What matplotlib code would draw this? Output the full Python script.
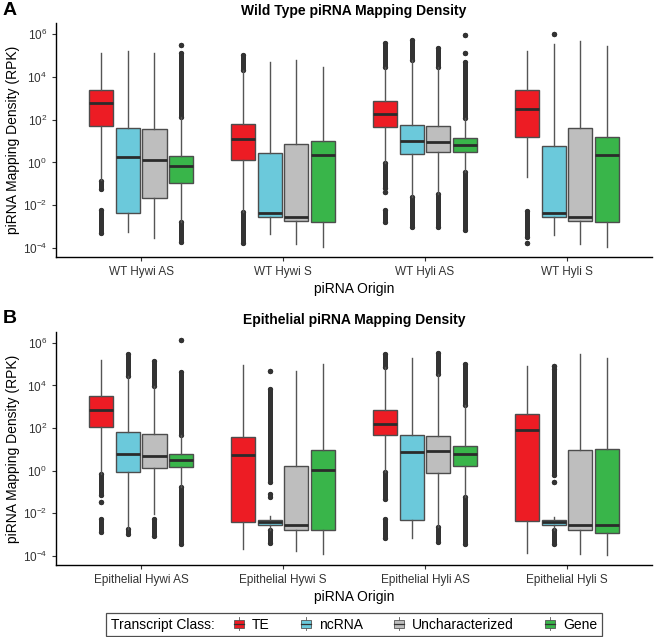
import matplotlib
matplotlib.use("Agg")
import matplotlib.pyplot as plt
from matplotlib.legend_handler import HandlerBase
from matplotlib.patches import Rectangle
from matplotlib.lines import Line2D
from matplotlib.offsetbox import HPacker

plt.rcParams['font.family'] = ['Liberation Sans', 'DejaVu Sans']
plt.rcParams['mathtext.fontset'] = 'custom'
plt.rcParams['mathtext.rm'] = 'Liberation Sans'

classes = ['TE', 'ncRNA', 'Uncharacterized', 'Gene']
colors = ['#ED1C24', '#6BC9DB', '#BEBEBE', '#39B54A']

groups_a = ['WT Hywi AS', 'WT Hywi S', 'WT Hyli AS', 'WT Hyli S']
groups_b = ['Epithelial Hywi AS', 'Epithelial Hywi S', 'Epithelial Hyli AS', 'Epithelial Hyli S']

# all values are log10(RPK); rows = groups, columns = classes
a_q1 = [[1.70, -2.38, -1.68, -0.96], [0.11, -2.54, -2.74, -2.77],
        [1.67, 0.38, 0.47, 0.49], [1.19, -2.54, -2.72, -2.77]]
a_med = [[2.76, 0.25, 0.10, -0.15], [1.11, -2.38, -2.54, 0.35],
         [2.26, 1.00, 0.94, 0.83], [2.50, -2.38, -2.54, 0.35]]
a_q3 = [[3.41, 1.59, 1.58, 0.30], [1.79, 0.44, 0.88, 1.00],
        [2.88, 1.73, 1.72, 1.16], [3.37, 0.78, 1.59, 1.17]]
a_lo = [[-0.82, -3.24, -3.52, -2.77], [-2.30, -3.35, -3.83, -3.94],
        [-0.04, -1.60, -1.45, -0.43], [-0.70, -3.39, -3.83, -3.94]]
a_hi = [[5.10, 5.22, 5.14, 2.14], [4.32, 4.71, 4.79, 4.47],
        [4.47, 4.79, 4.47, 2.06], [5.21, 5.56, 5.69, 5.45]]
# outlier runs (from, to) in log10; a single dot has from == to
a_out = [
    [[(-0.85, -1.25), (-2.22, -3.31)], [], [], [(5.49, 5.49), (5.10, 2.14), (-2.77, -3.70)]],
    [[(5.02, 4.32), (-2.30, -3.78)], [], [], []],
    [[(5.60, 4.47), (-0.04, -1.20), (-1.37, -1.37), (-2.22, -2.77)],
     [(5.75, 4.79), (-1.60, -3.00)],
     [(5.36, 4.47), (-1.45, -3.00)],
     [(5.95, 5.95), (5.10, 5.10), (4.71, 2.06), (-0.43, -3.16)]],
    [[(-2.26, -3.47), (-3.75, -3.75)], [(6.00, 6.00)], [], []],
]

b_q1 = [[2.03, -0.05, 0.15, 0.19], [-2.40, -2.53, -2.77, -2.78],
        [1.66, -2.31, -0.11, 0.20], [-2.34, -2.53, -2.78, -2.94]]
b_med = [[2.84, 0.77, 0.68, 0.50], [0.74, -2.42, -2.55, 0.04],
         [2.21, 0.90, 0.93, 0.80], [1.89, -2.40, -2.55, -2.55]]
b_q3 = [[3.50, 1.80, 1.73, 0.79], [1.58, -2.33, 0.23, 0.96],
        [2.84, 1.69, 1.61, 1.18], [2.67, -2.31, 0.98, 1.02]]
b_lo = [[-0.13, -2.74, -2.03, -0.76], [-3.68, -2.78, -3.76, -3.92],
        [-0.05, -3.13, -2.66, -1.24], [-3.84, -2.78, -3.89, -3.95]]
b_hi = [[5.21, 4.45, 3.98, 1.69], [4.97, -2.14, 4.69, 5.00],
        [4.85, 5.27, 4.53, 3.06], [4.89, -2.15, 5.45, 5.29]]
b_out = [
    [[(-0.13, -1.16), (-1.47, -1.47), (-2.26, -2.89)],
     [(5.48, 4.45), (-2.74, -2.97)],
     [(5.16, 3.98), (-2.26, -3.05)],
     [(6.11, 6.11), (4.61, 1.69), (-0.76, -3.45)]],
    [[], [(4.66, 4.66), (3.82, -0.52), (-1.08, -1.24), (-2.78, -3.37)], [], []],
    [[(5.48, 4.85), (-0.05, -1.31), (-2.26, -3.13)], [],
     [(5.53, 4.53), (-2.66, -3.32)],
     [(5.00, 3.06), (-1.24, -3.45)]],
    [[], [(4.93, 4.93), (4.77, -0.21), (-0.52, -0.52), (-2.78, -3.42)], [], []],
]

offsets = [-0.28125, -0.09375, 0.09375, 0.28125]


def draw_panel(ax, groups, q1, med, q3, lo, hi, outs, title):
    for g in range(len(groups)):
        for c in range(len(classes)):
            x = g + 1 + offsets[c]
            for a, b in outs[g][c]:
                ax.plot([x, x], [10 ** a, 10 ** b], color='#333333', lw=3.6,
                        solid_capstyle='round', marker='o', ms=3.8, mew=0, zorder=1)
            st = dict(med=10 ** med[g][c], q1=10 ** q1[g][c], q3=10 ** q3[g][c],
                      whislo=10 ** lo[g][c], whishi=10 ** hi[g][c], fliers=[])
            ax.bxp([st], positions=[x], widths=0.17, patch_artist=True,
                   showfliers=False, showcaps=False,
                   boxprops=dict(facecolor=colors[c], edgecolor='#4d4d4d', lw=1.0),
                   whiskerprops=dict(color='#555555', lw=1.0),
                   medianprops=dict(color='#2b2b2b', lw=2.0), zorder=2)
    ax.set_yscale('log')
    ax.set_ylim(10 ** -4.42, 10 ** 6.51)
    ax.set_xlim(0.4, 4.6)
    ax.set_xticks(range(1, 5))
    ax.set_xticklabels(groups, fontsize=8.5)
    ax.set_yticks([10.0 ** e for e in range(-4, 7, 2)])
    ax.set_yticklabels([r'$\mathregular{10^{%d}}$' % e for e in range(-4, 7, 2)], fontsize=8.5)
    ax.yaxis.set_minor_locator(matplotlib.ticker.NullLocator())
    ax.tick_params(length=3, color='#333333', labelcolor='#333333')
    for s in ['top', 'right']:
        ax.spines[s].set_visible(False)
    ax.spines['left'].set_linewidth(1.0)
    ax.spines['bottom'].set_linewidth(1.0)
    ax.set_xlabel('piRNA Origin', fontsize=10, labelpad=3)
    ax.set_ylabel('piRNA Mapping Density (RPK)', fontsize=10, labelpad=2)
    ax.set_title(title, fontsize=10, fontweight='bold', pad=6)


class BoxHandler(HandlerBase):
    def create_artists(self, legend, orig, xd, yd, width, height, fontsize, trans):
        cx = xd + width / 2
        r = Rectangle((cx - 3.5, yd + height * 0.1), 7, height * 0.8,
                      facecolor=orig.get_facecolor(), edgecolor='#555555', lw=0.6,
                      transform=trans)
        v = Line2D([cx, cx], [yd - 1, yd + height + 1], color='#555555', lw=0.6, transform=trans)
        m = Line2D([cx - 3.5, cx + 3.5], [yd + height / 2] * 2, color='#333333', lw=0.9, transform=trans)
        return [v, r, m]


fig = plt.figure(figsize=(6.55, 6.37), dpi=100)
ax_a = fig.add_axes([0.0855, 0.5965, 0.910, 0.367])
ax_b = fig.add_axes([0.0855, 0.113, 0.910, 0.366])

draw_panel(ax_a, groups_a, a_q1, a_med, a_q3, a_lo, a_hi, a_out, 'Wild Type piRNA Mapping Density')
draw_panel(ax_b, groups_b, b_q1, b_med, b_q3, b_lo, b_hi, b_out, 'Epithelial piRNA Mapping Density')

fig.text(0.004, 0.984, 'A', fontsize=14, fontweight='bold', va='center')
fig.text(0.004, 0.500, 'B', fontsize=14, fontweight='bold', va='center')

handles = [Rectangle((0, 0), 1, 1, facecolor=c) for c in colors]
leg = fig.legend(handles, classes, handler_map={h: BoxHandler() for h in handles},
                 loc='center', ncol=4, bbox_to_anchor=(0.541, 0.0195), fontsize=10,
                 title='Transcript Class:', title_fontsize=10, frameon=True,
                 fancybox=False, edgecolor='#222222', handlelength=1.0,
                 handletextpad=0.45, columnspacing=2.1, borderpad=0.35)
leg.get_frame().set_linewidth(0.9)
# put the legend title to the left of the keys, as ggplot does
old = leg._legend_box
leg._legend_box = HPacker(pad=old.pad, sep=12, align='center',
                          children=[leg._legend_title_box, leg._legend_handle_box])
leg._legend_box.set_figure(fig)
leg._legend_box.set_offset(leg._findoffset)

fig.savefig('out.png', dpi=100)
